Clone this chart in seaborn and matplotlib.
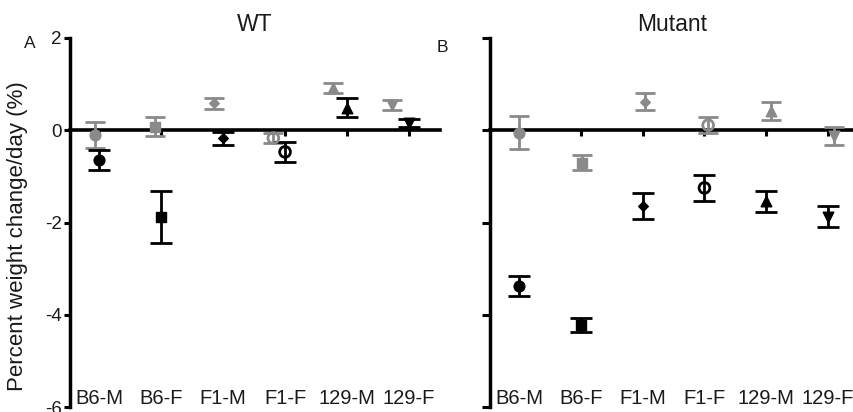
import matplotlib
matplotlib.use("Agg")
import matplotlib.pyplot as plt
import numpy as np
import pandas as pd
import seaborn as sns

# ---- data ----
categories = ["B6-M", "B6-F", "F1-M", "F1-F", "129-M", "129-F"]

wt_black_mean = [-0.65, -1.88, -0.17, -0.47, 0.49, 0.16]
wt_black_sem = [0.22, 0.56, 0.14, 0.22, 0.21, 0.08]
wt_gray_mean = [-0.11, 0.08, 0.58, -0.17, 0.92, 0.55]
wt_gray_sem = [0.28, 0.21, 0.11, 0.10, 0.11, 0.11]

mut_black_mean = [-3.38, -4.23, -1.65, -1.25, -1.54, -1.87]
mut_black_sem = [0.22, 0.15, 0.28, 0.28, 0.23, 0.23]
mut_gray_mean = [-0.05, -0.70, 0.62, 0.11, 0.42, -0.13]
mut_gray_sem = [0.35, 0.17, 0.18, 0.17, 0.20, 0.20]

yticks = [2, 0, -2, -4, -6]
ytick_labels = ["2", "0", "-2", "-4", "-6"]

titles = ["WT", "Mutant"]
panel_letters = ["A", "B"]
ylabel = "Percent weight change/day (%)"

# ---- style ----
sns.set_theme(style="white")
plt.rcParams["font.family"] = ["Liberation Sans", "DejaVu Sans"]
plt.rcParams["axes.unicode_minus"] = False

BLACK = "#000000"
GRAY = "#8a8a8a"
TXT = "#1a1a1a"
markers = {"B6-M": "o", "B6-F": "s", "F1-M": "D", "F1-F": "o", "129-M": "^", "129-F": "v"}
msizes = {"B6-M": 60, "B6-F": 48, "F1-M": 24, "F1-F": 60, "129-M": 58, "129-F": 58}
hollow = {"F1-F"}

fig = plt.figure(figsize=(8.54, 4.12), dpi=100)
H = 412.0
W = 854.0
bottom = (H - 407) / H
height = (407 - 38) / H
ax1 = fig.add_axes([70 / W, bottom, (440 - 70) / W, height])
ax2 = fig.add_axes([490 / W, bottom, (854 - 490) / W, height])

pos = np.arange(len(categories))


def draw_series(ax, xs, means, sems, color, capsize):
    ax.errorbar(xs, means, yerr=sems, fmt="none", ecolor=color,
                elinewidth=2.0, capsize=capsize, capthick=2.0, zorder=3)
    for x, m, cat in zip(xs, means, categories):
        df = pd.DataFrame({"x": [x], "y": [m]})
        sns.scatterplot(data=df, x="x", y="y", marker=markers[cat], s=msizes[cat],
                        color=color, edgecolor=color, linewidth=1.0, ax=ax,
                        zorder=4, legend=False)
        if cat in hollow:
            coll = ax.collections[-1]
            coll.set_facecolor("none")
            coll.set_edgecolor(color)
            coll.set_linewidth(2.0)


panels = [
    (ax1, wt_black_mean, wt_black_sem, wt_gray_mean, wt_gray_sem, pos * 0.957 - 0.06, (-0.47, 5.50), 4),
    (ax2, mut_black_mean, mut_black_sem, mut_gray_mean, mut_gray_sem, pos * 1.02 + 0.0, (-0.47, 5.42), 6),
]

for k, (ax, bm, bs, gm, gs, gx, xl, ylen) in enumerate(panels):
    draw_series(ax, gx, gm, gs, GRAY, 7)
    draw_series(ax, pos, bm, bs, BLACK, 8)

    ax.set_xlim(*xl)
    ax.set_ylim(-6, 2)
    ax.set_facecolor("none")
    for s in ["top", "right"]:
        ax.spines[s].set_visible(False)
    ax.spines["left"].set_linewidth(2.5)
    ax.spines["left"].set_color("black")
    ax.spines["bottom"].set_position(("data", 0))
    ax.spines["bottom"].set_linewidth(2.6)
    ax.spines["bottom"].set_color("black")
    ax.spines["bottom"].set_zorder(2)

    ax.set_xticks(pos)
    ax.set_xticklabels([])
    ax.tick_params(axis="x", direction="out", length=4.5, width=2.2, color="black", bottom=True)
    ax.set_yticks(yticks)
    if k == 0:
        ax.set_yticklabels(ytick_labels, fontsize=13.5)
    else:
        ax.set_yticklabels([])
    ax.tick_params(axis="y", direction="out", length=ylen, width=2.2, color="black",
                   left=True, pad=2, labelcolor=TXT)
    ax.set_xlabel("")
    ax.set_ylabel("")
    ax.grid(False)

    for i, cat in enumerate(categories):
        ax.text(i, -5.82, cat, ha="center", va="center", fontsize=14.5, color=TXT)

    ax.set_title(titles[k], fontsize=16.5, pad=5, color=TXT)

fig.text(18 / W, 1 - 236 / H, ylabel, rotation=90, ha="center", va="center",
         fontsize=16, color=TXT)
fig.text(30 / W, 1 - 43 / H, panel_letters[0], ha="center", va="center", fontsize=12.5, color=TXT)
fig.text(442 / W, 1 - 48 / H, panel_letters[1], ha="center", va="center", fontsize=12.5, color=TXT)

fig.savefig("out.png", dpi=100)
